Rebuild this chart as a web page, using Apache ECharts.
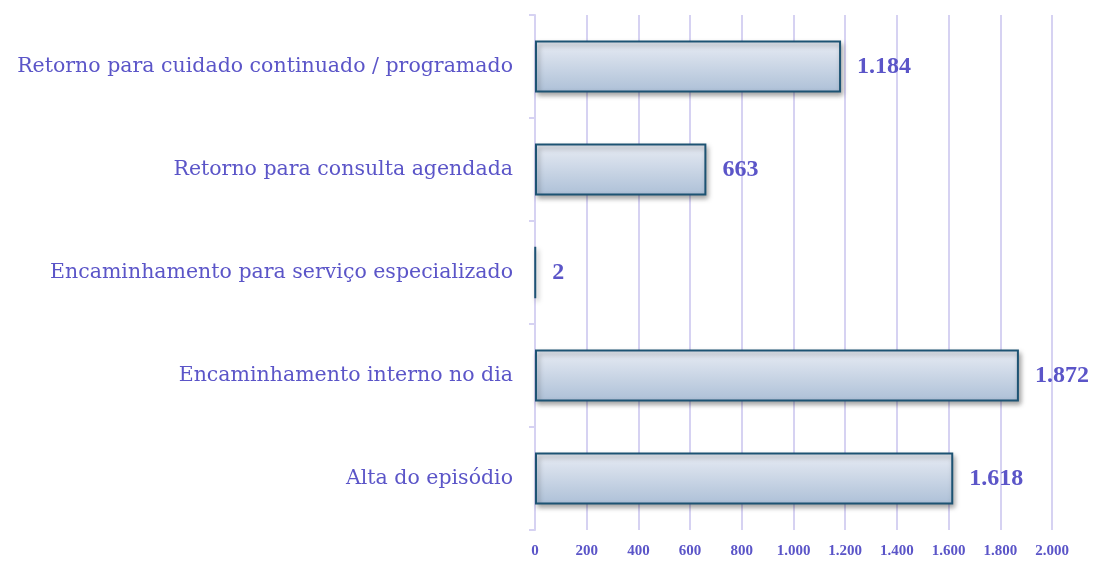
<!DOCTYPE html>
<html>
<head>
<meta charset="utf-8">
<script src="https://cdn.jsdelivr.net/npm/echarts@6/dist/echarts.min.js"></script>
<style>
  html, body { margin: 0; padding: 0; background: #fff; }
  #chart { width: 1094px; height: 561px; }
</style>
</head>
<body>
<div id="chart"></div>
<script>
  // categorias de baixo para cima
  var categorias = ['Alta do episódio', 'Encaminhamento interno no dia', 'Encaminhamento para serviço especializado', 'Retorno para consulta agendada', 'Retorno para cuidado continuado / programado'];
  var valores = [1618, 1872, 2, 663, 1184];

  var corTexto = '#5b55c8';
  var corGrade = '#d6d2f2';

  function fmt(v) {
    return String(v).replace(/\B(?=(\d{3})+(?!\d))/g, '.');
  }

  var myChart = echarts.init(document.getElementById('chart'));
  myChart.setOption({
    animation: false,
    grid: {
      left: 535,
      right: 42,
      top: 15,
      bottom: 31
    },
    xAxis: {
      type: 'value',
      min: 0,
      max: 2000,
      interval: 200,
      axisLine: { show: false },
      axisTick: { show: false },
      splitLine: { lineStyle: { color: corGrade, width: 2 } },
      axisLabel: {
        color: corTexto,
        fontFamily: 'Liberation Serif',
        fontWeight: 'bold',
        fontSize: 15,
        margin: 14,
        formatter: fmt
      }
    },
    yAxis: {
      type: 'category',
      data: categorias,
      axisLine: { lineStyle: { color: corGrade, width: 2 } },
      axisTick: { show: true, length: 6, lineStyle: { color: corGrade, width: 2 } },
      axisLabel: {
        color: corTexto,
        fontFamily: 'DejaVu Serif',
        fontSize: 20.5,
        margin: 22,
        padding: [4, 0, 0, 0]
      }
    },
    series: [
      {
        type: 'bar',
        data: valores,
        barWidth: 52,
        itemStyle: {
          color: new echarts.graphic.LinearGradient(0, 0, 0, 1, [
            { offset: 0, color: '#e8ecf4' },
            { offset: 1, color: '#adc0d7' }
          ]),
          borderColor: '#1d5373',
          borderWidth: 2,
          shadowColor: 'rgba(0,0,0,0.35)',
          shadowBlur: 5,
          shadowOffsetX: 2,
          shadowOffsetY: 3
        },
        label: {
          show: true,
          position: 'right',
          distance: 16,
          color: corTexto,
          fontFamily: 'Liberation Serif',
          fontWeight: 'bold',
          fontSize: 24,
          padding: [4, 0, 0, 0],
          formatter: function (p) { return fmt(p.value); }
        }
      }
    ]
  });
</script>
</body>
</html>
